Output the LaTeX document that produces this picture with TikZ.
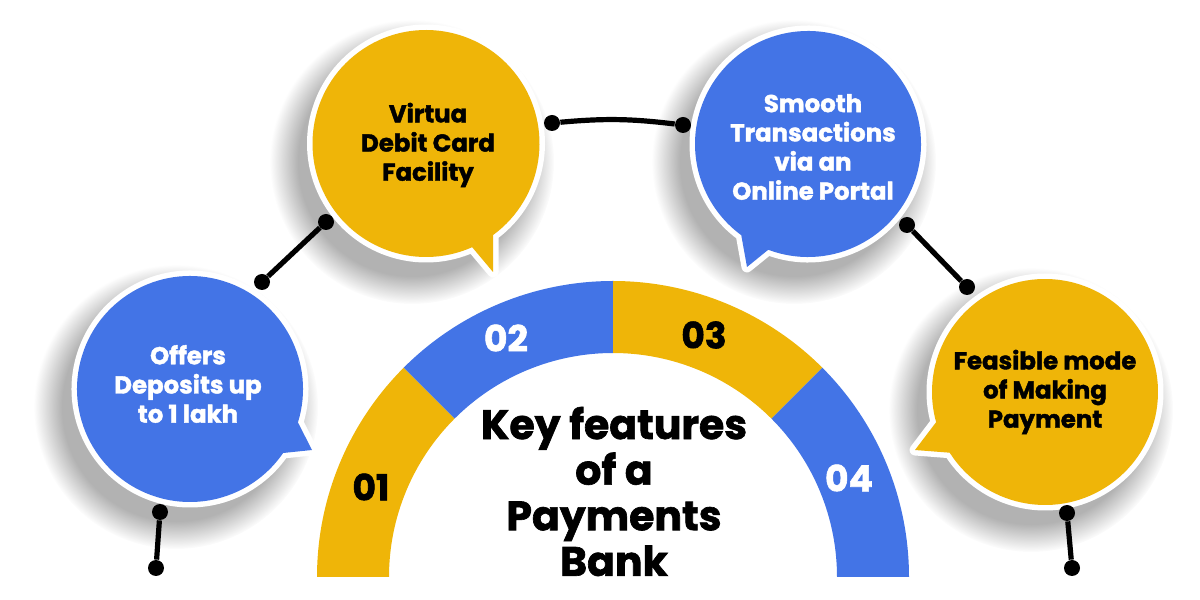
\documentclass[tikz,border=0pt]{standalone}
\usepackage{fontspec}
\setmainfont{Poppins}[BoldFeatures={FakeBold=1.6}]
\usetikzlibrary{fadings}
\definecolor{byel}{RGB}{239,181,8}
\definecolor{bblue}{RGB}{67,116,230}
\newcommand\drawbub[7]{%
  \path[draw=white,line width=5.5pt,line join=round] (#1,#2) ++(#4:#3) arc[start angle=#4,end angle=#5,radius=#3] -- #6 -- cycle;
  \fill[#7] (#1,#2) ++(#4:#3) arc[start angle=#4,end angle=#5,radius=#3] -- #6 -- cycle;}
\newcommand\ringseg[3]{%
  \fill[#3] (613,23) ++(#1:296) arc[start angle=#1,end angle=#2,radius=296] -- ++(#2+180:72) arc[start angle=#2,end angle=#1,radius=224] -- cycle;}
\begin{document}
\begin{tikzpicture}[x=0.5pt,y=0.5pt,
  dotn/.style={circle,fill=black,inner sep=0pt,minimum size=8pt},
  conn/.style={line width=2.6pt,black},
  btext/.style={font=\bfseries\fontsize{12.2}{14.6}\selectfont,align=center},
  numtext/.style={font=\bfseries\fontsize{18}{20}\selectfont},
  titletext/.style={font=\bfseries\fontsize{20.5}{22.8}\selectfont,align=center},
  shadowc/.style={black,opacity=0.30,path fading=circle with fuzzy edge 20 percent},
]
\useasboundingbox (0,0) rectangle (1200,600);
% soft shadows
\fill[shadowc] (176,193) circle[radius=142];
\fill[shadowc] (412,438) circle[radius=142];
\fill[shadowc] (794,438) circle[radius=142];
\fill[shadowc] (1031,190) circle[radius=142];
% ring
\ringseg{180}{135}{byel}
\ringseg{135}{90}{bblue}
\ringseg{90}{45}{byel}
\ringseg{45}{0}{bblue}
\node[numtext,text=black] (n1) at (371,113) {01};
\node[numtext,text=white] (n2) at (506,262) {02};
\node[numtext,text=black] (n3) at (704,265) {03};
\node[numtext,text=white] (n4) at (849,122) {04};
\node[titletext] (title) at (614,108.5) {Key features\\of a\\Payments\\Bank};
% bubbles
\drawbub{190}{211}{113}{-17.2}{325.5}{(312,150)}{bblue}
\drawbub{426}{456.5}{113.5}{-53.7}{294}{(493,328)}{byel}
\drawbub{808}{456}{113}{249.4}{593.8}{(747,333)}{bblue}
\drawbub{1045}{208}{113}{212.5}{555.5}{(915,150)}{byel}
\node[btext,text=white] (t1) at (188,216) {Offers\\Deposits up\\to 1 lakh};
\node[btext,text=black] (t2) at (428,455) {Virtua\\Debit Card\\Facility};
\node[btext,text=white] (t3) at (813,453) {Smooth\\Transactions\\via an\\Online Portal};
\node[btext,text=black] (t4) at (1045,208) {Feasible mode\\of Making\\Payment};
% connectors
\node[dotn] (c1a) at (156,32) {};
\node[dotn] (c1b) at (160,88) {};
\node[dotn] (c2a) at (262,318) {};
\node[dotn] (c2b) at (326,378) {};
\node[dotn] (c3a) at (552,477) {};
\node[dotn] (c3b) at (683,475) {};
\node[dotn] (c4a) at (907,375) {};
\node[dotn] (c4b) at (967,313) {};
\node[dotn] (c5a) at (1067,87) {};
\node[dotn] (c5b) at (1072,32) {};
\draw[conn] (c1a) -- (c1b);
\draw[conn] (c2a) -- (c2b);
\draw[conn] (c3a) to[bend left=6] (c3b);
\draw[conn] (c4a) -- (c4b);
\draw[conn] (c5a) -- (c5b);
\end{tikzpicture}
\end{document}
